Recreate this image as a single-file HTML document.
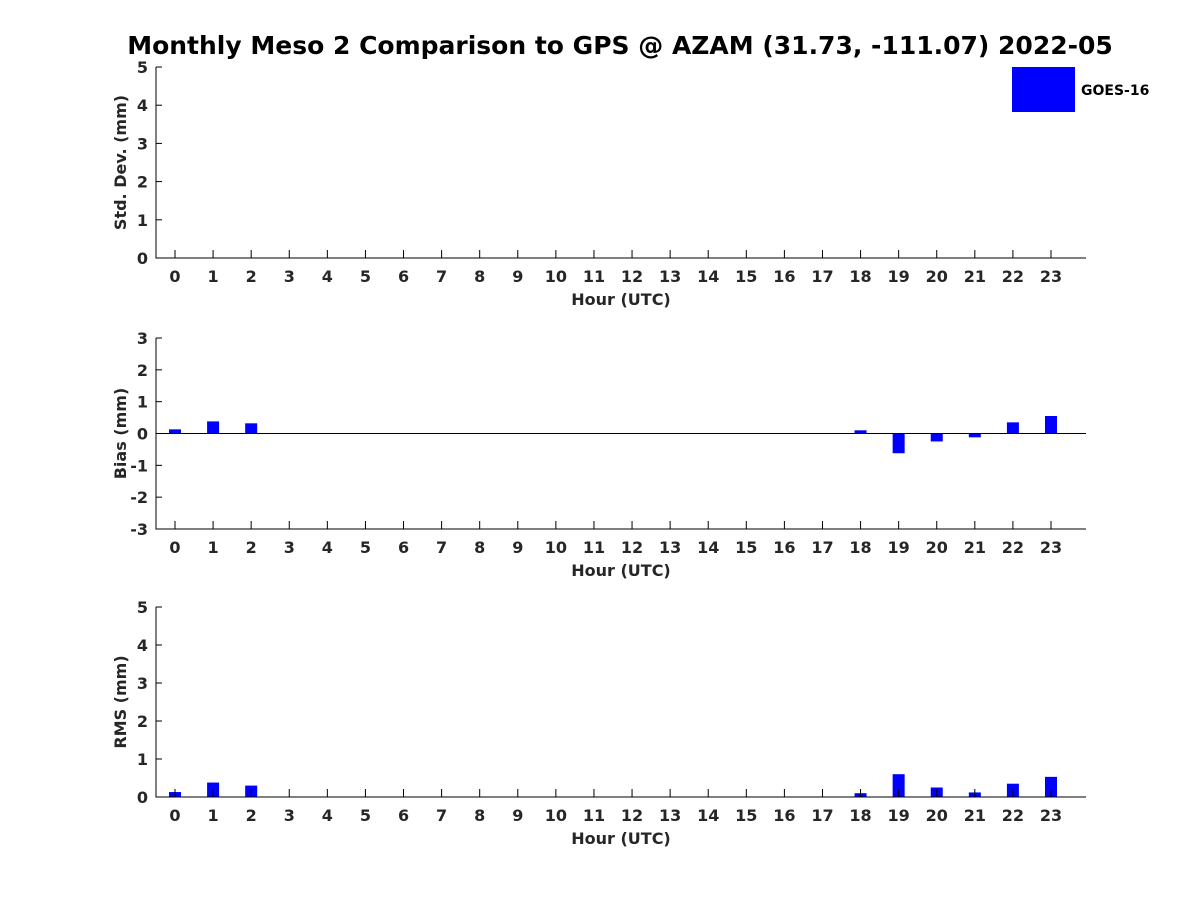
<!DOCTYPE html>
<html><head><meta charset="utf-8"><style>
body{margin:0;background:#fff;}
svg{font-family:"DejaVu Sans","Liberation Sans",sans-serif;font-weight:bold;}
</style></head><body>
<svg id="c" width="1200" height="900" xmlns="http://www.w3.org/2000/svg">
<text x="620" y="54" text-anchor="middle" font-size="25" fill="#000">Monthly Meso 2 Comparison to GPS @ AZAM (31.73, -111.07) 2022-05</text>
<g>
<rect x="1012" y="67" width="63" height="45" fill="#0000ff"/>
<text x="1081" y="95" font-size="14">GOES-16</text>
</g>
</svg>
<script>
const hours = [];
for (let h = 0; h < 24; h++) hours.push(h);
const stdHours = [];
const stdValues = [];
const biasHours = [0, 1, 2, 18, 19, 20, 21, 22, 23];
const biasValues = [0.13, 0.38, 0.32, 0.1, -0.62, -0.25, -0.12, 0.35, 0.55];
const rmsHours = [0, 1, 2, 18, 19, 20, 21, 22, 23];
const rmsValues = [0.13, 0.38, 0.3, 0.1, 0.6, 0.25, 0.12, 0.35, 0.53];
const stdTicks = [0, 1, 2, 3, 4, 5];
const biasTicks = [-3, -2, -1, 0, 1, 2, 3];
const rmsTicks = [0, 1, 2, 3, 4, 5];

const svg = document.getElementById('c');
const NS = 'http://www.w3.org/2000/svg';
function mk(tag, attrs, parent) {
  const e = document.createElementNS(NS, tag);
  for (const k in attrs) e.setAttribute(k, attrs[k]);
  parent.appendChild(e);
  return e;
}
const X0 = 156, X1 = 1086;
function xs(h) { return 175 + h * (1051 - 175) / 23; }

function panel(name, top, bottom, ymin, ymax, ticks, ylabel, hrs, vals, zeroLine) {
  const g = mk('g', {}, svg);
  
  
  const ys = v => bottom - (v - ymin) / (ymax - ymin) * (bottom - top);
  hrs.forEach((h, i) => {
    const v = vals[i];
    const y0 = ys(0), y1 = ys(v);
    const r = mk('rect', {x: xs(h) - 6, y: Math.min(y0, y1), width: 12, height: Math.abs(y1 - y0), fill: '#0000ff'}, g);
    
    
  });
  if (zeroLine) {
    const z = mk('line', {x1: X0, x2: X1, y1: ys(0), y2: ys(0), stroke: '#000', 'stroke-width': 1}, g);
    
    
  }
  const ax = mk('path', {d: `M${X0},${top} L${X0},${bottom} L${X1},${bottom}`, stroke: '#000', fill: 'none', 'stroke-width': 1}, g);
  
  
  ticks.forEach(t => {
    const y = ys(t);
    mk('line', {x1: X0, x2: X0 + 6, y1: y, y2: y, stroke: '#000'}, g);
    const tx = mk('text', {x: X0 - 8, y: y + 6, 'text-anchor': 'end', 'font-size': 16, fill: '#262626'}, g);
    tx.textContent = t;
    
    
  });
  hours.forEach(h => {
    const x = xs(h);
    mk('line', {x1: x, x2: x, y1: bottom, y2: bottom - 8, stroke: '#000'}, g);
    const tx = mk('text', {x: x, y: bottom + 24, 'text-anchor': 'middle', 'font-size': 16, fill: '#262626'}, g);
    tx.textContent = h;
    
    
  });
  const xl = mk('text', {x: 621, y: bottom + 47, 'text-anchor': 'middle', 'font-size': 16, fill: '#262626'}, g);
  xl.textContent = 'Hour (UTC)';
  
  
  const cy = (top + bottom) / 2;
  const yl = mk('text', {x: 126, y: cy, 'text-anchor': 'middle', 'font-size': 16, fill: '#262626', transform: `rotate(-90 126 ${cy})`}, g);
  yl.textContent = ylabel;
  
  
}
panel('std-dev', 67, 258, 0, 5, stdTicks, 'Std. Dev. (mm)', stdHours, stdValues, false);
panel('bias', 338, 529, -3, 3, biasTicks, 'Bias (mm)', biasHours, biasValues, true);
panel('rms', 607, 797, 0, 5, rmsTicks, 'RMS (mm)', rmsHours, rmsValues, false);
</script>
</body></html>
